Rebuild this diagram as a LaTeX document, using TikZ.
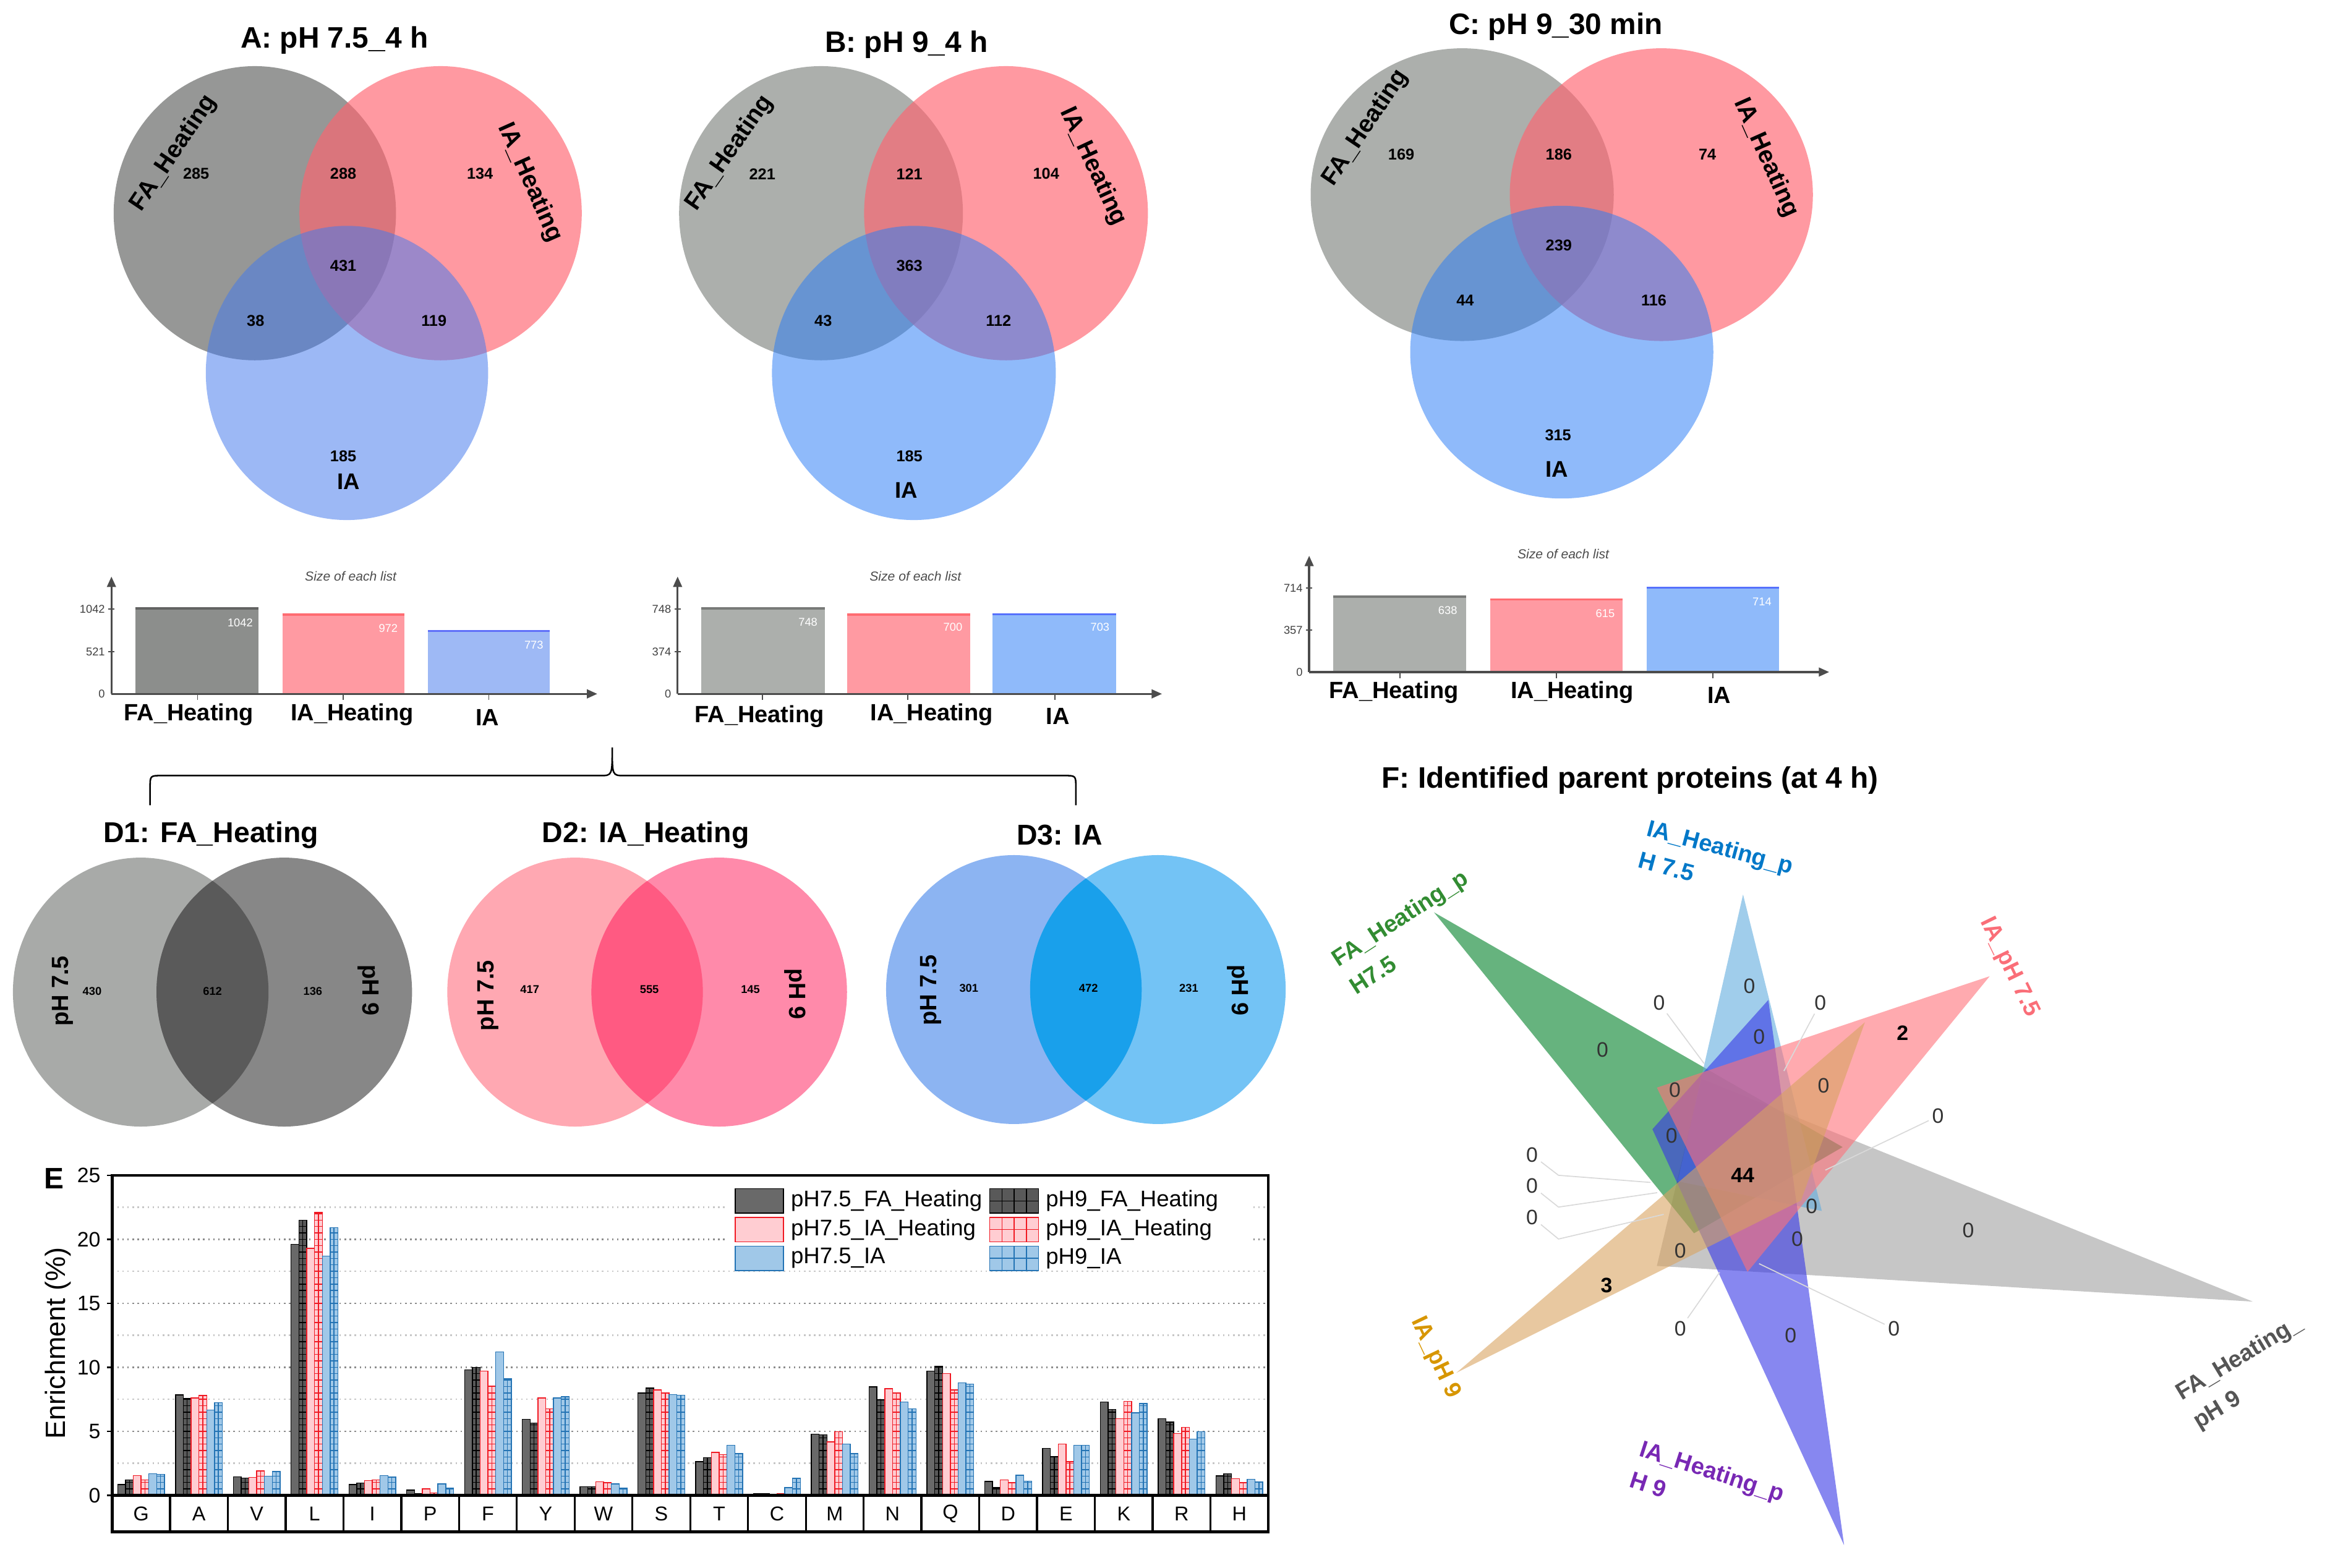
\documentclass[tikz,border=0pt]{standalone}
\usepackage{fontspec}
\setmainfont{Liberation Sans}
\usetikzlibrary{arrows.meta, calc}
% venn colours
\definecolor{vgrayA}{RGB}{150, 151, 150}
\definecolor{vgrayB}{RGB}{172, 175, 172}
\definecolor{vred}{RGB}{255, 99, 111}
\definecolor{vblue}{RGB}{68, 121, 236}
\definecolor{vblueB}{RGB}{43, 125, 245}
% bar colours
\definecolor{bgrayA}{RGB}{140, 142, 140}
\definecolor{bred}{RGB}{255, 154, 162}
\definecolor{bblueA}{RGB}{158, 185, 245}
\definecolor{bblueB}{RGB}{143, 186, 250}
% D colours
\definecolor{dgrayL}{RGB}{168, 170, 168}
\definecolor{dgrayR}{RGB}{135, 135, 135}
\definecolor{dgrayM}{RGB}{90, 90, 90}
\definecolor{dredL}{RGB}{255, 168, 178}
\definecolor{dredR}{RGB}{255, 138, 170}
\definecolor{dredM}{RGB}{255, 90, 130}
\definecolor{dblueL}{RGB}{140, 180, 242}
\definecolor{dblueR}{RGB}{115, 195, 245}
\definecolor{dblueM}{RGB}{25, 160, 235}
% E colours
\definecolor{egfill}{RGB}{105, 105, 105}
\definecolor{erfill}{RGB}{255, 205, 210}
\definecolor{erline}{RGB}{240, 25, 35}
\definecolor{ebfill}{RGB}{160, 200, 232}
\definecolor{ebline}{RGB}{35, 115, 180}
% F colours
\definecolor{fgreen}{RGB}{0, 128, 40}
\definecolor{fltblue}{RGB}{97, 172, 222}
\definecolor{fpink}{RGB}{255, 113, 122}
\definecolor{ftan}{RGB}{217, 163, 97}
\definecolor{fgray}{RGB}{160, 160, 160}
\definecolor{fviolet}{RGB}{55, 55, 230}
\definecolor{tgreen}{RGB}{50, 140, 50}
\definecolor{tblue}{RGB}{0, 120, 200}
\definecolor{tred}{RGB}{250, 110, 120}
\definecolor{torange}{RGB}{215, 150, 0}
\definecolor{tpurple}{RGB}{120, 40, 180}
\definecolor{tgray}{RGB}{85, 85, 85}

\tikzset{
  vtitle/.style={font=\fontsize{17}{20}\selectfont\bfseries},
  vset/.style={font=\fontsize{14}{16}\selectfont\bfseries},
  vnum/.style={font=\fontsize{9}{10}\selectfont\bfseries},
  listtitle/.style={font=\fontsize{7.5}{9}\selectfont\itshape, text=black!70},
  ticklab/.style={font=\fontsize{6.5}{8}\selectfont, text=black!75, anchor=east, inner sep=1pt},
  barval/.style={font=\fontsize{6.5}{8}\selectfont, text=white, anchor=east, inner sep=1pt},
  barcat/.style={font=\fontsize{13.5}{16}\selectfont\bfseries},
  axisline/.style={line width=1.2pt, draw=black!70},
  dtitle/.style={font=\fontsize{16.5}{19}\selectfont\bfseries},
  dset/.style={font=\fontsize{13.5}{16}\selectfont\bfseries},
  dnum/.style={font=\fontsize{6.5}{8}\selectfont\bfseries},
  etick/.style={font=\fontsize{12}{14}\selectfont, anchor=east, inner sep=1pt},
  ecat/.style={font=\fontsize{11.5}{14}\selectfont},
  elegend/.style={font=\fontsize{13}{15}\selectfont, anchor=west, inner sep=0pt},
  eframe/.style={line width=1.5pt, draw=black},
  egA/.style={fill=egfill, draw=black, line width=0.5pt},
  egB/.style={fill=egfill!85!black, draw=black, line width=0.5pt},
  erA/.style={fill=erfill, draw=erline, line width=0.5pt},
  erB/.style={fill=erfill, draw=erline, line width=0.5pt},
  ebA/.style={fill=ebfill, draw=ebline, line width=0.5pt},
  ebB/.style={fill=ebfill, draw=ebline, line width=0.5pt},
  fset/.style={font=\fontsize{13.5}{19}\selectfont\bfseries, align=left, inner sep=0pt},
  fnum/.style={font=\fontsize{12}{14}\selectfont, text=black!80, inner sep=0pt},
  fbold/.style={font=\fontsize{12}{14}\selectfont\bfseries, inner sep=0pt},
  leader/.style={draw=black!15, line width=0.6pt, shorten <=2pt},
  tri/.style={fill opacity=0.6},
}

% bar with grid hatching: left x, value, style
\newcommand{\gridbar}[3]{%
  \draw[#3] ({#1},1006.4) rectangle ({#1+5.25},{1006.4-#2*8.616});
  \draw[#3] ({#1+2.625},1006.4) -- ({#1+2.625},{1006.4-#2*8.616});
  \pgfmathtruncatemacro\nlines{#2*2}%
  \ifnum\nlines>0
    \foreach \k in {1,...,\nlines}{\draw[#3] ({#1},{1006.4-\k*4.308}) -- ({#1+5.25},{1006.4-\k*4.308});}%
  \fi}

\begin{document}
\begin{tikzpicture}[x=0.03cm, y=-0.03cm]
  \useasboundingbox (0,0) rectangle (1568,1055);

  % A: pH 7.5_4 h
  \node[vtitle] (tA) at (225,27) {A: pH 7.5\_4 h};
  \fill[vgrayA] (171.5,143.5) ellipse [x radius=95, y radius=99];
  \fill[vred, opacity=0.65] (296.5,143.5) ellipse [x radius=95, y radius=99];
  \fill[vblue, opacity=0.53] (233.5,251) ellipse [x radius=95, y radius=99];
  \node[vset, rotate=56] (aFA) at (117,103) {FA\_Heating};
  \node[vset, rotate=-66] (aIAH) at (356.5,122.8) {IA\_Heating};
  \node[vset, font=\fontsize{13}{15}\selectfont\bfseries] (aIA) at (234.5,324) {IA};
  \node[vnum] (a1) at (132,117) {285};
  \node[vnum] (a2) at (231,117) {288};
  \node[vnum] (a3) at (323,117) {134};
  \node[vnum] (a4) at (231,179) {431};
  \node[vnum] (a5) at (172,216) {38};
  \node[vnum] (a6) at (292,216) {119};
  \node[vnum] (a7) at (231,307) {185};

  % B: pH 9_4 h
  \node[vtitle] (tB) at (610,30) {B: pH 9\_4 h};
  \fill[vgrayB] (552.5,143.5) ellipse [x radius=95.5, y radius=99];
  \fill[vred, opacity=0.65] (677,143.5) ellipse [x radius=95.5, y radius=99];
  \fill[vblueB, opacity=0.53] (615,251) ellipse [x radius=95.5, y radius=99];
  \node[vset, rotate=55] (bFA) at (491,103) {FA\_Heating};
  \node[vset, rotate=-65] (bIAH) at (735.5,112) {IA\_Heating};
  \node[vset, font=\fontsize{13}{15}\selectfont\bfseries] (bIA) at (610,330) {IA};
  \node[vnum] (b1) at (513,117) {221};
  \node[vnum] (b2) at (612,117) {121};
  \node[vnum] (b3) at (704,117) {104};
  \node[vnum] (b4) at (612,179) {363};
  \node[vnum] (b5) at (554,216) {43};
  \node[vnum] (b6) at (672,216) {112};
  \node[vnum] (b7) at (612,307) {185};

  % C: pH 9_30 min
  \node[vtitle] (tC) at (1047,18) {C: pH 9\_30 min};
  \fill[vgrayB] (984,131) ellipse [x radius=102, y radius=98.5];
  \fill[vred, opacity=0.65] (1118,131) ellipse [x radius=102, y radius=98.5];
  \fill[vblueB, opacity=0.53] (1051,237) ellipse [x radius=102, y radius=98.5];
  \node[vset, rotate=56] (cFA) at (919,86) {FA\_Heating};
  \node[vset, rotate=-66] (cIAH) at (1188.5,106.3) {IA\_Heating};
  \node[vset, font=\fontsize{13}{15}\selectfont\bfseries] (cIA) at (1047.7,316) {IA};
  \node[vnum] (c1) at (943,104) {169};
  \node[vnum] (c2) at (1049,104) {186};
  \node[vnum] (c3) at (1149,104) {74};
  \node[vnum] (c4) at (1049,165) {239};
  \node[vnum] (c5) at (986,202) {44};
  \node[vnum] (c6) at (1113,202) {116};
  \node[vnum] (c7) at (1048.5,293) {315};

  % size of each list, A
  \node[listtitle] (sA) at (236,388) {Size of each list};
  \fill[bgrayA] (91,467) rectangle (174,409.5);
  \draw[line width=1.2pt, bgrayA!70!black] (91,409.5) -- (174,409.5);
  \fill[bred] (190,467) rectangle (272,413.6);
  \draw[line width=1.2pt, bred!70!red] (190,413.6) -- (272,413.6);
  \fill[bblueA] (288,467) rectangle (370,424.7);
  \draw[line width=1.2pt, bblueA!60!blue] (288,424.7) -- (370,424.7);
  \draw[axisline, -{Triangle[length=6pt, width=5pt]}] (75,467) -- (75,388);
  \draw[axisline, -{Triangle[length=6pt, width=5pt]}] (75,467) -- (402,467);
  \draw[axisline, line width=0.6pt] (73,410) -- (77,410) (73,438.5) -- (77,438.5);
  \draw[axisline, line width=0.6pt] (133,467) -- (133,471) (231,467) -- (231,471) (329,467) -- (329,471);
  \node[ticklab] (sA1) at (72,410) {1042};
  \node[ticklab] (sA2) at (72,438.5) {521};
  \node[ticklab] (sA3) at (72,467) {0};
  \node[barval] (sAv1) at (171.5,419) {1042};
  \node[barval] (sAv2) at (269,423) {972};
  \node[barval] (sAv3) at (367,434) {773};
  \node[barcat] (sAc1) at (127,481) {FA\_Heating};
  \node[barcat] (sAc2) at (237,481) {IA\_Heating};
  \node[barcat] (sAc3) at (328,483) {IA};

  % size of each list, B
  \node[listtitle] (sB) at (616,388) {Size of each list};
  \fill[vgrayB] (472,467) rectangle (555,409.5);
  \draw[line width=1.2pt, vgrayB!70!black] (472,409.5) -- (555,409.5);
  \fill[bred] (570,467) rectangle (653,413.7);
  \draw[line width=1.2pt, bred!70!red] (570,413.7) -- (653,413.7);
  \fill[bblueB] (668,467) rectangle (751,413.4);
  \draw[line width=1.2pt, bblueB!60!blue] (668,413.4) -- (751,413.4);
  \draw[axisline, -{Triangle[length=6pt, width=5pt]}] (456,467) -- (456,388);
  \draw[axisline, -{Triangle[length=6pt, width=5pt]}] (456,467) -- (782,467);
  \draw[axisline, line width=0.6pt] (454,410) -- (458,410) (454,438.5) -- (458,438.5);
  \draw[axisline, line width=0.6pt] (513,467) -- (513,471) (611,467) -- (611,471) (710,467) -- (710,471);
  \node[ticklab] (sB1) at (453,410) {748};
  \node[ticklab] (sB2) at (453,438.5) {374};
  \node[ticklab] (sB3) at (453,467) {0};
  \node[barval] (sBv1) at (551.5,418.8) {748};
  \node[barval] (sBv2) at (649,422.2) {700};
  \node[barval] (sBv3) at (748,422.2) {703};
  \node[barcat] (sBc1) at (511,482) {FA\_Heating};
  \node[barcat] (sBc2) at (627,481) {IA\_Heating};
  \node[barcat] (sBc3) at (712,482) {IA};

  % size of each list, C
  \node[listtitle] (sC) at (1052,373) {Size of each list};
  \fill[vgrayB] (897,452.3) rectangle (986.5,401.5);
  \draw[line width=1.2pt, vgrayB!70!black] (897,401.5) -- (986.5,401.5);
  \fill[bred] (1003,452.3) rectangle (1092,403.4);
  \draw[line width=1.2pt, bred!70!red] (1003,403.4) -- (1092,403.4);
  \fill[bblueB] (1108,452.3) rectangle (1197,395.5);
  \draw[line width=1.2pt, bblueB!60!blue] (1108,395.5) -- (1197,395.5);
  \draw[axisline, -{Triangle[length=6pt, width=5pt]}] (881,452.3) -- (881,374);
  \draw[axisline, -{Triangle[length=6pt, width=5pt]}] (881,452.3) -- (1231,452.3);
  \draw[axisline, line width=0.6pt] (879,395.7) -- (883,395.7) (879,424) -- (883,424);
  \draw[axisline, line width=0.6pt] (942,452.3) -- (942,456.3) (1047.4,452.3) -- (1047.4,456.3) (1152.6,452.3) -- (1152.6,456.3);
  \node[ticklab] (sC1) at (878,395.7) {714};
  \node[ticklab] (sC2) at (878,424) {357};
  \node[ticklab] (sC3) at (878,452.3) {0};
  \node[barval] (sCv1) at (982,410.7) {638};
  \node[barval] (sCv2) at (1088,412.8) {615};
  \node[barval] (sCv3) at (1193.5,405) {714};
  \node[barcat] (sCc1) at (938,466) {FA\_Heating};
  \node[barcat] (sCc2) at (1058,466) {IA\_Heating};
  \node[barcat] (sCc3) at (1157,468) {IA};

  % brace over D
  \draw[line width=0.9pt] (101,542) -- (101,530) .. controls (101,522) .. (109,522) -- (404,522)
    .. controls (412,522) .. (412,503) .. controls (412,522) .. (420,522) -- (716,522)
    .. controls (724,522) .. (724,530) -- (724,542);

  % D1
  \node[dtitle] (tD1) at (142,562) {D1: FA\_Heating};
  \fill[dgrayL] (94.7,667.7) ellipse [x radius=86, y radius=90.5];
  \fill[dgrayR] (191.3,667.7) ellipse [x radius=86, y radius=90.5];
  \begin{scope}
    \clip (94.7,667.7) ellipse [x radius=86, y radius=90.5];
    \fill[dgrayM] (191.3,667.7) ellipse [x radius=86, y radius=90.5];
  \end{scope}
  \node[dset, rotate=90] (d1L) at (42,667) {pH 7.5};
  \node[dset, rotate=-90] (d1R) at (248,666.5) {pH 9};
  \node[dnum] (d1a) at (62,667) {430};
  \node[dnum] (d1b) at (143,667) {612};
  \node[dnum] (d1c) at (210.5,667) {136};

  % D2
  \node[dtitle] (tD2) at (434.5,562) {D2: IA\_Heating};
  \fill[dredL] (387,667.7) ellipse [x radius=86, y radius=90.5];
  \fill[dredR] (484,667.7) ellipse [x radius=86, y radius=90.5];
  \begin{scope}
    \clip (387,667.7) ellipse [x radius=86, y radius=90.5];
    \fill[dredM] (484,667.7) ellipse [x radius=86, y radius=90.5];
  \end{scope}
  \node[dset, rotate=90] (d2L) at (328.6,670) {pH 7.5};
  \node[dset, rotate=-90] (d2R) at (535,669) {pH 9};
  \node[dnum] (d2a) at (356.5,666) {417};
  \node[dnum] (d2b) at (437,666) {555};
  \node[dnum] (d2c) at (505,666) {145};

  % D3
  \node[dtitle] (tD3) at (713,562) {D3: IA};
  \fill[dblueL] (682.3,666) ellipse [x radius=86, y radius=90.5];
  \fill[dblueR] (779.2,666) ellipse [x radius=86, y radius=90.5];
  \begin{scope}
    \clip (682.3,666) ellipse [x radius=86, y radius=90.5];
    \fill[dblueM] (779.2,666) ellipse [x radius=86, y radius=90.5];
  \end{scope}
  \node[dset, rotate=90] (d3L) at (626.6,666.5) {pH 7.5};
  \node[dset, rotate=-90] (d3R) at (833,666.5) {pH 9};
  \node[dnum] (d3a) at (652,665) {301};
  \node[dnum] (d3b) at (732.5,665) {472};
  \node[dnum] (d3c) at (800,665) {231};

  % E: enrichment
  \node[font=\fontsize{17}{20}\selectfont\bfseries] (eLab) at (36.5,793) {E};
  \node[rotate=90, font=\fontsize{16}{18}\selectfont] (eY) at (39,904) {Enrichment (\%)};
  \foreach \v in {2.5,7.5,12.5,17.5,22.5}
    \draw[black!22, dotted, line width=0.9pt] (75.5,{1006.4-\v*8.616}) -- (853.5,{1006.4-\v*8.616});
  \foreach \v in {5,10,15,20}
    \draw[black!45, dotted, line width=0.9pt] (75.5,{1006.4-\v*8.616}) -- (853.5,{1006.4-\v*8.616});
  \foreach \v in {0,5,...,25} {
    \node[etick] (et\v) at (69,{1006.4-\v*8.616}) {\v};
    \draw[line width=0.8pt] (72,{1006.4-\v*8.616}) -- (75.5,{1006.4-\v*8.616});
  }
  \foreach \lab/\va/\vb/\vc/\vd/\ve/\vf [count=\i from 0] in {
      G/0.85/1.2/1.55/1.2/1.7/1.65, A/7.85/7.55/7.6/7.8/6.65/7.25,
      V/1.45/1.35/1.4/1.9/1.5/1.85, L/19.6/21.5/19.3/22.1/18.7/20.9,
      I/0.85/0.97/1.15/1.2/1.55/1.42, P/0.4/0.15/0.5/0.2/0.9/0.57,
      F/9.8/10.0/9.7/8.55/11.2/9.1, Y/5.95/5.65/7.6/6.75/7.6/7.7,
      W/0.67/0.67/1.05/0.98/0.9/0.57, S/8.0/8.37/8.23/8.03/7.87/7.83,
      T/2.64/2.95/3.35/3.2/3.9/3.25, C/0.14/0.14/0.05/0.14/0.6/1.32,
      M/4.78/4.72/4.17/4.98/4.0/3.25, N/8.48/7.46/8.33/8.03/7.28/6.75,
      Q/9.72/10.06/9.5/8.23/8.78/8.68, D/1.08/0.61/1.22/0.98/1.57/1.12,
      E/3.66/3.05/4.0/2.64/3.9/3.92, K/7.28/6.7/6.0/7.34/6.44/7.17,
      R/6.0/5.72/4.82/5.3/4.4/4.97, H/1.53/1.68/1.3/0.99/1.26/1.05} {
    \pgfmathsetmacro\xl{75.5+38.9*\i}
    \node[ecat] (ec\lab) at ({\xl+19.45},1018.7) {\lab};
    \draw[egA] ({\xl+3.7},1006.4) rectangle ++(5.25,{-\va*8.616});
    \gridbar{\xl+8.95}{\vb}{egB}
    \draw[erA] ({\xl+14.2},1006.4) rectangle ++(5.25,{-\vc*8.616});
    \gridbar{\xl+19.45}{\vd}{erB}
    \draw[ebA] ({\xl+24.7},1006.4) rectangle ++(5.25,{-\ve*8.616});
    \gridbar{\xl+29.95}{\vf}{ebB}
  }
  % legend
  \fill[white] (490,797) rectangle (842,853);
  \draw[egA] (494.7,800) rectangle (527.3,816.5);
  \node[elegend] (lg1) at (532,808.3) {pH7.5\_FA\_Heating};
  \draw[erA] (494.7,819.3) rectangle (527.3,835.8);
  \node[elegend] (lg2) at (532,827.5) {pH7.5\_IA\_Heating};
  \draw[ebA] (494.7,838.6) rectangle (527.3,855.1);
  \node[elegend] (lg3) at (532,846.8) {pH7.5\_IA};
  \foreach \st/\yt/\txt [count=\j] in {egB/800/pH9\_FA\_Heating, erB/819.3/pH9\_IA\_Heating, ebB/838.6/pH9\_IA} {
    \draw[\st] (666,\yt) rectangle (699,{\yt+16.5});
    \draw[\st] (674.25,\yt) -- ++(0,16.5) (682.5,\yt) -- ++(0,16.5) (690.75,\yt) -- ++(0,16.5)
      (666,{\yt+8.25}) -- (699,{\yt+8.25});
    \node[elegend] (lgg\j) at (703.6,{\yt+8.3}) {\txt};
  }
  % frame
  \draw[eframe] (75.5,791) rectangle (853.5,1006.4);
  \draw[eframe] (75.5,1006.4) -- (75.5,1031) -- (853.5,1031) -- (853.5,1006.4);
  \foreach \i in {1,...,19}
    \draw[line width=1.2pt] ({75.5+38.9*\i},1006.4) -- ({75.5+38.9*\i},1031);

  % F: parent proteins
  \node[vtitle] (tF) at (1097,525) {F: Identified parent proteins (at 4 h)};
  \fill[fgray, tri] (1516,876) -- (1145,726) -- (1115,852) -- cycle;
  \fill[fgreen, tri] (965,614) -- (1140,830) -- (1240,772) -- cycle;
  \fill[fltblue, tri] (1173,602) -- (1129,795) -- (1226,815) -- cycle;
  \fill[fviolet, tri] (1241,1040) -- (1112,760) -- (1190,673) -- cycle;
  \fill[fpink, tri] (1339,657) -- (1115,732) -- (1176,856) -- cycle;
  \fill[ftan, tri] (980,924) -- (1255,688) -- (1212,808) -- cycle;

  \node[fset, text=tgreen, rotate=33] (fl-g) at (948,627) {FA\_Heating\_p\\H7.5};
  \node[fset, text=tblue, rotate=-15] (fl-b) at (1155,580.6) {IA\_Heating\_p\\H 7.5};
  \node[fset, text=tred, rotate=-64] (fl-r) at (1352,651) {IA\_pH 7.5};
  \node[fset, text=torange, rotate=-64.6] (fl-o) at (965.8,913.8) {IA\_pH 9};
  \node[fset, text=tpurple, rotate=-18] (fl-p) at (1149,1000.4) {IA\_Heating\_p\\H 9};
  \node[fset, text=tgray, rotate=31] (fl-k) at (1513,924) {FA\_Heating\_\\pH 9};

  % region counts
  \node[fnum] (f1) at (1177.2,663.8) {0};
  \node[fnum] (f2) at (1078.4,706.6) {0};
  \node[fnum] (f3) at (1183.8,697.8) {0};
  \node[fbold] (f4) at (1280.3,695.4) {2};
  \node[fnum] (f5) at (1127.1,733.5) {0};
  \node[fnum] (f6) at (1227.2,730.7) {0};
  \node[fnum] (f7) at (1124.9,764.2) {0};
  \node[fbold] (f8) at (1172.7,791) {44};
  \node[fnum] (f9) at (1219.2,811.8) {0};
  \node[fnum] (f10) at (1324.6,828) {0};
  \node[fnum] (f11) at (1209.5,833.9) {0};
  \node[fnum] (f12) at (1130.7,841.7) {0};
  \node[fbold] (f13) at (1081.1,865.1) {3};
  \node[fnum] (f14) at (1205,898.8) {0};

  % counts outside, with leader lines
  \node[fnum] (fz1) at (1116.5,675) {0};
  \node[fnum] (fz2) at (1225,675) {0};
  \node[fnum] (fz3) at (1304.2,751.2) {0};
  \node[fnum] (fz4) at (1031,777.3) {0};
  \node[fnum] (fz5) at (1031,798.2) {0};
  \node[fnum] (fz6) at (1031,819.2) {0};
  \node[fnum] (fz7) at (1130.7,894.3) {0};
  \node[fnum] (fz8) at (1274.5,894.3) {0};
  \coordinate (fe1) at (1146.8,715.8);
  \coordinate (fe2) at (1200.5,720.8);
  \coordinate (fe3) at (1228.4,787.5);
  \coordinate (fk4) at (1048.8,791);
  \coordinate (fe4) at (1110.7,795.8);
  \coordinate (fk5) at (1048.8,812.4);
  \coordinate (fe5) at (1115.2,802.7);
  \coordinate (fk6) at (1048.8,833.9);
  \coordinate (fe6) at (1119.6,817.3);
  \coordinate (fe7) at (1157.2,856.3);
  \coordinate (fe8) at (1183.8,850.5);
  \draw[leader] (fz1) -- (fe1);
  \draw[leader] (fz2) -- (fe2);
  \draw[leader] (fz3) -- (fe3);
  \draw[leader] (fz4) -- (fk4) -- (fe4);
  \draw[leader] (fz5) -- (fk5) -- (fe5);
  \draw[leader] (fz6) -- (fk6) -- (fe6);
  \draw[leader] (fz7) -- (fe7);
  \draw[leader] (fz8) -- (fe8);
\end{tikzpicture}
\end{document}
